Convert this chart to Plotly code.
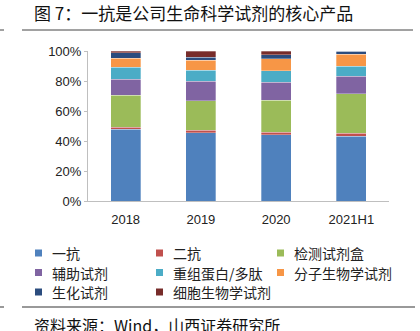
import plotly.graph_objects as go

categories = ["2018", "2019", "2020", "2021H1"]
series_names = ["一抗", "二抗", "检测试剂盒", "辅助试剂", "重组蛋白/多肽", "分子生物学试剂", "生化试剂", "细胞生物学试剂"]
v_yikang = [47.8, 45.6, 44.2, 43.1]
v_erkang = [1.3, 1.5, 1.8, 2.0]
v_jiance = [21.3, 19.8, 21.3, 26.5]
v_fuzhu = [10.7, 12.9, 11.8, 11.5]
v_chongzu = [8.2, 7.3, 7.8, 6.7]
v_fenzi = [6.0, 6.7, 7.8, 8.0]
v_shenghua = [3.4, 2.2, 2.9, 2.2]
v_xibao = [1.3, 4.0, 2.4, 0.0]
series_values = [v_yikang, v_erkang, v_jiance, v_fuzhu, v_chongzu, v_fenzi, v_shenghua, v_xibao]
colors = ["#4F81BD", "#C0504D", "#9BBB59", "#8064A2", "#4BACC6", "#F79646", "#2B4C7E", "#772C2A"]
y_ticks = [0, 20, 40, 60, 80, 100]
y_tick_labels = ["0%", "20%", "40%", "60%", "80%", "100%"]
title = "图 7：一抗是公司生命科学试剂的核心产品"
source = "资料来源：Wind，山西证券研究所"

W, H = 420, 331
L, R, T, B = 88, 389, 51, 201
CJK = "Noto Sans CJK SC"

def px(x):
    return (x - L) / (R - L)

def py(y):
    return (B - y) / (B - T)

fig = go.Figure()
for name, vals, c in zip(series_names, series_values, colors):
    fig.add_trace(go.Bar(x=categories, y=[v / 100 for v in vals], name=name,
                         marker=dict(color=c, line=dict(color="rgba(255,255,255,0.5)", width=0.6)),
                         showlegend=False))

shapes = [
    dict(type="line", xref="paper", yref="paper", x0=px(22), x1=px(413), y0=py(30), y1=py(30),
         line=dict(color="#444444", width=1)),
    dict(type="line", xref="paper", yref="paper", x0=px(0), x1=px(4), y0=py(30), y1=py(30),
         line=dict(color="#444444", width=1)),
    dict(type="line", xref="paper", yref="paper", x0=px(22), x1=px(415), y0=py(307), y1=py(307),
         line=dict(color="#777777", width=1.5)),
    dict(type="line", xref="paper", yref="paper", x0=px(0), x1=px(4), y0=py(307), y1=py(307),
         line=dict(color="#777777", width=1.5)),
]
annotations = [
    dict(text=title, xref="paper", yref="paper", x=px(32), y=py(13), xanchor="left", yanchor="middle",
         showarrow=False, font=dict(family=CJK, size=17, color="#111111")),
    dict(text=source, xref="paper", yref="paper", x=px(32), y=py(325), xanchor="left", yanchor="middle",
         showarrow=False, font=dict(family=CJK, size=16, color="#111111")),
]

col_x = [35, 156, 277]
row_y = [253, 272.5, 292]
for i, (name, c) in enumerate(zip(series_names, colors)):
    cx = col_x[i % 3]
    cy = row_y[i // 3]
    shapes.append(dict(type="rect", xref="paper", yref="paper", x0=px(cx), x1=px(cx + 7),
                       y0=py(cy + 3.5), y1=py(cy - 3.5), fillcolor=c, line=dict(width=0)))
    annotations.append(dict(text=name, xref="paper", yref="paper", x=px(cx + 15), y=py(cy),
                            xanchor="left", yanchor="middle", showarrow=False,
                            font=dict(family=CJK, size=14, color="#222222")))

fig.update_layout(
    width=W, height=H,
    margin=dict(l=L, r=W - R, t=T, b=H - B, pad=0),
    paper_bgcolor="white", plot_bgcolor="white",
    barmode="stack", bargap=0.6,
    shapes=shapes, annotations=annotations,
    font=dict(family="Liberation Sans, Arial", size=13, color="#222222"),
    xaxis=dict(showline=True, linecolor="#BFBFBF", linewidth=1, ticks="", showgrid=False,
               ticklabelstandoff=6, tickfont=dict(size=13, color="#222222")),
    yaxis=dict(range=[0, 1], tickvals=[t / 100 for t in y_ticks], ticktext=y_tick_labels,
               showline=True, linecolor="#BFBFBF", linewidth=1, ticks="outside", ticklen=3,
               tickcolor="#BFBFBF", showgrid=False, zeroline=False,
               tickfont=dict(size=13, color="#222222")),
)

fig.write_html("out.html")
